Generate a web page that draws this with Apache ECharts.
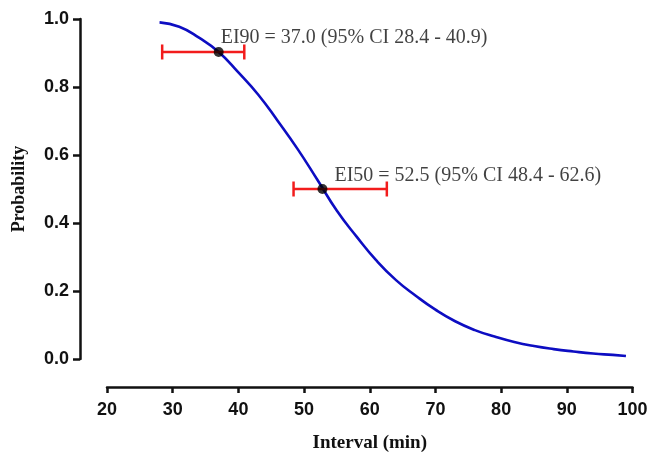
<!DOCTYPE html>
<html>
<head>
<meta charset="utf-8">
<script src="https://cdn.jsdelivr.net/npm/echarts@6/dist/echarts.min.js"></script>
<style>
    html,body{margin:0;padding:0;background:#fff;}
    #chart{width:648px;height:453px;}
</style>
</head>
<body>
<div id="chart"></div>
<script>
// curve: interval (min) -> probability
var curveX = [28, 31, 34, 37, 40, 43, 46, 49, 52, 55, 58, 61, 64, 67, 70, 73, 76, 79, 82, 85, 88, 91, 94, 97, 99];
var curveY = [0.99, 0.977, 0.945, 0.903, 0.843, 0.778, 0.70, 0.618, 0.528, 0.436, 0.36, 0.29, 0.232, 0.186, 0.145, 0.111, 0.085, 0.066, 0.05, 0.038, 0.029, 0.022, 0.016, 0.012, 0.009];

// estimates with 95% CI
var estNames = ['EI90', 'EI50'];
var estX = [37, 52.8];
var estY = [0.903, 0.500];
var ciLow = [28.4, 48.4];
var ciHigh = [40.9, 62.6];
var estText = ['EI90 = 37.0 (95% CI 28.4 - 40.9)', 'EI50 = 52.5 (95% CI 48.4 - 62.6)'];
var labelOffsets = [[2, -4], [12, -3]];

var xTicks = [20, 100, 10];   // min, max, step
var yTicks = [0, 1, 0.2];

var sansBold = {fontFamily: '"Liberation Sans", Arial, sans-serif', fontWeight: 'bold', fontSize: 18, color: '#111'};
var serifBold = {fontFamily: '"Liberation Serif", "Times New Roman", serif', fontWeight: 'bold', fontSize: 19, color: '#111'};

var curve = curveX.map(function(x, i){ return [x, curveY[i]]; });
var bars = estX.map(function(x, i){ return [x, estY[i], ciLow[i], ciHigh[i]]; });
var points = estX.map(function(x, i){
    return {
        name: estNames[i],
        value: [x, estY[i]],
        label: {show: true, formatter: estText[i], offset: labelOffsets[i]}
    };
});

function axisLine(){
    return {show: true, onZero: false, lineStyle: {color: '#111', width: 2.5}};
}

function errorBar(params, api){
    var y = api.value(1);
    var a = api.coord([api.value(2), y]);
    var b = api.coord([api.value(3), y]);
    var cap = 7.5;
    var style = {stroke: '#f21c1c', lineWidth: 2.5};
    return {
        type: 'group',
        children: [
            {type: 'line', shape: {x1: a[0], y1: a[1], x2: b[0], y2: b[1]}, style: style},
            {type: 'line', shape: {x1: a[0], y1: a[1] - cap, x2: a[0], y2: a[1] + cap}, style: style},
            {type: 'line', shape: {x1: b[0], y1: b[1] - cap, x2: b[0], y2: b[1] + cap}, style: style}
        ]
    };
}

var chart = echarts.init(document.getElementById('chart'));
chart.setOption({
    animation: false,
    backgroundColor: '#fff',
    grid: {left: 107, right: 15.5, top: 19, bottom: 94, outerBoundsMode: 'none'},
    xAxis: {
        type: 'value',
        min: xTicks[0], max: xTicks[1], interval: xTicks[2],
        offset: 28,
        name: 'Interval (min)',
        nameLocation: 'middle',
        nameGap: 47,
        nameTextStyle: serifBold,
        axisLine: axisLine(),
        axisTick: {show: true, inside: false, length: 6, lineStyle: {color: '#111', width: 2.5}},
        axisLabel: Object.assign({margin: 14}, sansBold),
        splitLine: {show: false}
    },
    yAxis: {
        type: 'value',
        min: yTicks[0], max: yTicks[1], interval: yTicks[2],
        offset: 27,
        name: 'Probability',
        nameLocation: 'middle',
        nameGap: 52,
        nameTextStyle: Object.assign({}, serifBold, {fontSize: 18}),
        axisLine: axisLine(),
        axisTick: {show: true, inside: false, length: 7, lineStyle: {color: '#111', width: 2.5}},
        axisLabel: Object.assign({margin: 11, formatter: function(v){ return v.toFixed(1); }}, sansBold),
        splitLine: {show: false}
    },
    series: [
        {
            type: 'line',
            data: curve,
            smooth: 0.5,
            showSymbol: false,
            lineStyle: {color: '#0d0dc2', width: 2.6},
            z: 2
        },
        {
            type: 'custom',
            data: bars,
            renderItem: errorBar,
            z: 3
        },
        {
            type: 'scatter',
            data: points,
            symbolSize: 10,
            itemStyle: {color: '#000'},
            label: {
                position: 'inside',
                align: 'left',
                verticalAlign: 'bottom',
                fontFamily: '"Liberation Serif", "Times New Roman", serif',
                fontSize: 20,
                color: '#111'
            },
            z: 4
        }
    ]
});
</script>
</body>
</html>
